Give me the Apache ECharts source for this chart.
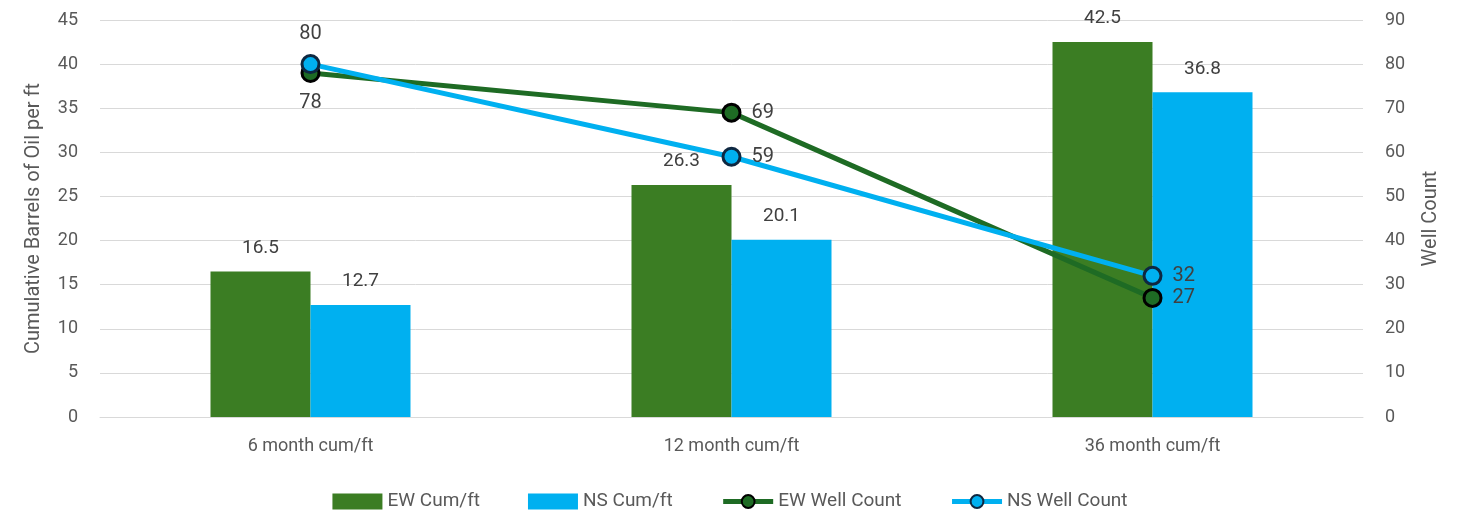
<!DOCTYPE html>
<html>
<head>
<meta charset="utf-8">
<script src="https://cdn.jsdelivr.net/npm/echarts@6/dist/echarts.min.js"></script>
<style>
  html,body{margin:0;padding:0;background:#fff;}
  #chart{width:1460px;height:519px;}
</style>
</head>
<body>
<div id="chart"></div>
<script>
// 数据
const categories = ['6 month cum/ft', '12 month cum/ft', '36 month cum/ft'];
const ewCum = [16.5, 26.3, 42.5];
const nsCum = [12.7, 20.1, 36.8];
const ewWells = [78, 69, 27];
const nsWells = [80, 59, 32];
const ewWellLabelPos = ['bottom', 'right', 'right'];
const nsWellLabelPos = ['top', 'right', 'right'];

const font = 'Roboto, "Liberation Sans", sans-serif';
const textColor = '#595959';

const myChart = echarts.init(document.getElementById('chart'));

const labelled = (vals, pos) => vals.map((v, i) => ({ value: v, label: { position: pos[i] } }));

const option = {
  animation: false,
  textStyle: { fontFamily: font },
  grid: { left: 100, right: 97, top: 20, bottom: 102 },
  legend: {
    bottom: 3,
    itemGap: 48,
    itemWidth: 50,
    itemHeight: 16,
    textStyle: { fontSize: 19, color: textColor, fontFamily: font },
    data: [
      { name: 'EW Cum/ft', icon: 'rect' },
      { name: 'NS Cum/ft', icon: 'rect' },
      { name: 'EW Well Count', lineStyle: { width: 5 } },
      { name: 'NS Well Count', lineStyle: { width: 5 } }
    ]
  },
  xAxis: {
    type: 'category',
    data: categories,
    axisTick: { show: false },
    axisLine: { lineStyle: { color: '#d9d9d9' } },
    axisLabel: { fontSize: 18, color: textColor, margin: 20 }
  },
  yAxis: [
    {
      type: 'value', min: 0, max: 45, interval: 5,
      name: 'Cumulative Barrels of Oil per ft',
      nameLocation: 'middle', nameGap: 56, nameRotate: 90,
      nameTextStyle: { fontSize: 20, color: textColor },
      axisLabel: { fontSize: 18, color: textColor, margin: 22 },
      splitLine: { lineStyle: { color: '#d9d9d9' } }
    },
    {
      type: 'value', min: 0, max: 90, interval: 10,
      name: 'Well Count',
      nameLocation: 'middle', nameGap: 58, nameRotate: 90,
      nameTextStyle: { fontSize: 20, color: textColor },
      axisLabel: { fontSize: 18, color: textColor, margin: 22 },
      splitLine: { show: false }
    }
  ],
  series: [
    {
      name: 'EW Cum/ft', type: 'bar', data: ewCum,
      barWidth: 100, barGap: '0%',
      itemStyle: { color: '#3b7d23' },
      label: { show: true, position: 'top', distance: 14, fontSize: 19, color: '#404040' }
    },
    {
      name: 'NS Cum/ft', type: 'bar', data: nsCum,
      barWidth: 100,
      itemStyle: { color: '#00b0f0' },
      label: { show: true, position: 'top', distance: 14, fontSize: 19, color: '#404040' }
    },
    {
      name: 'EW Well Count', type: 'line', yAxisIndex: 1,
      data: labelled(ewWells, ewWellLabelPos),
      symbol: 'circle', symbolSize: 17,
      lineStyle: { color: '#1e6b24', width: 5 },
      itemStyle: { color: '#1e6b24', borderColor: '#000', borderWidth: 3 },
      label: { show: true, fontSize: 20, color: '#404040', distance: 10 }
    },
    {
      name: 'NS Well Count', type: 'line', yAxisIndex: 1,
      data: labelled(nsWells, nsWellLabelPos),
      symbol: 'circle', symbolSize: 17,
      lineStyle: { color: '#00b0f0', width: 5 },
      itemStyle: { color: '#00b0f0', borderColor: '#0e2841', borderWidth: 3 },
      label: { show: true, fontSize: 20, color: '#404040', distance: 10 }
    }
  ]
};

myChart.setOption(option);
</script>
</body>
</html>
